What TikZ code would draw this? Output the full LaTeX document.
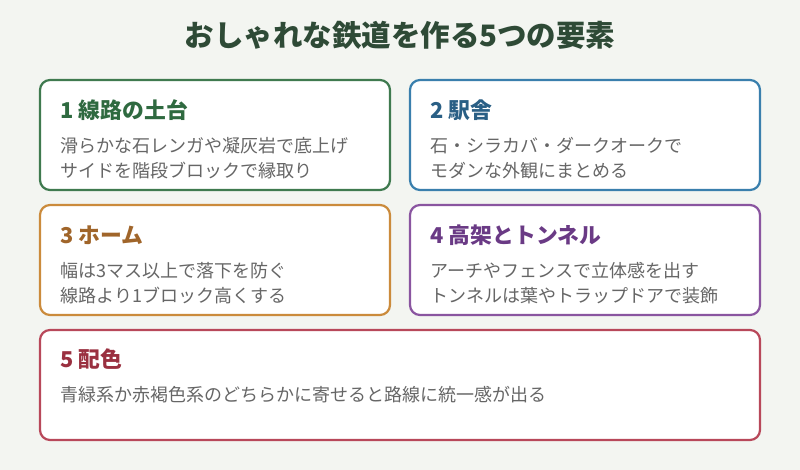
\documentclass[tikz,border=0pt]{standalone}
\usepackage{fontspec}
\setmainfont{Noto Sans CJK JP}
\definecolor{bg}{HTML}{F3F5F1}
\definecolor{ttl}{HTML}{2E4A36}
\definecolor{cg}{HTML}{3F7A4F}\definecolor{tg}{HTML}{2F6A40}
\definecolor{cb}{HTML}{3A7FAD}\definecolor{tb}{HTML}{2A5F85}
\definecolor{co}{HTML}{CB8B3C}\definecolor{to}{HTML}{A0652A}
\definecolor{cp}{HTML}{8A55A0}\definecolor{tp}{HTML}{6A3A85}
\definecolor{cr}{HTML}{B8485A}\definecolor{tr}{HTML}{9A3040}
\definecolor{body}{HTML}{666666}
\tikzset{x=1pt,y=-1pt,
 card/.style={draw=#1,line width=2.2pt,rounded corners=10pt,fill=white},
 head/.style={anchor=west,text=#1,font=\fontsize{21.8}{24}\selectfont\bfseries},
 txt/.style={anchor=west,text=body,font=\fontsize{18}{20}\selectfont}}
\begin{document}
\begin{tikzpicture}
\fill[bg] (0,0) rectangle (800,470);
\node[text=ttl,font=\fontsize{29.5}{32}\selectfont\bfseries] (title) at (400,35) {おしゃれな鉄道を作る5つの要素};
\draw[card=cg] (40,80) rectangle (390,190);
\node[head=tg] (h1) at (57,110) {1 線路の土台};
\node[txt] (a1) at (57,146) {滑らかな石レンガや凝灰岩で底上げ};
\node[txt] (b1) at (57,171) {サイドを階段ブロックで縁取り};
\draw[card=cb] (410,80) rectangle (760,190);
\node[head=tb] (h2) at (427,110) {2 駅舎};
\node[txt] (a2) at (427,146) {石・シラカバ・ダークオークで};
\node[txt] (b2) at (427,171) {モダンな外観にまとめる};
\draw[card=co] (40,205) rectangle (390,315);
\node[head=to] (h3) at (57,235) {3 ホーム};
\node[txt] (a3) at (57,271) {幅は3マス以上で落下を防ぐ};
\node[txt] (b3) at (57,296) {線路より1ブロック高くする};
\draw[card=cp] (410,205) rectangle (760,315);
\node[head=tp] (h4) at (427,235) {4 高架とトンネル};
\node[txt] (a4) at (427,271) {アーチやフェンスで立体感を出す};
\node[txt] (b4) at (427,296) {トンネルは葉やトラップドアで装飾};
\draw[card=cr] (40,330) rectangle (760,440);
\node[head=tr] (h5) at (57,359) {5 配色};
\node[txt] (a5) at (57,395) {青緑系か赤褐色系のどちらかに寄せると路線に統一感が出る};
\end{tikzpicture}
\end{document}
